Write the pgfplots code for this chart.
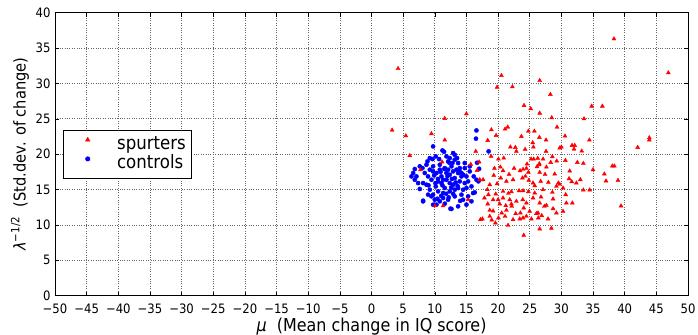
\documentclass[border=0pt]{standalone}
\usepackage{fontspec}
\setmainfont{DejaVu Sans}[FakeStretch=0.9]
\usepackage{pgfplots}
\pgfplotsset{compat=1.18}
\begin{document}
\begin{tikzpicture}
\begin{axis}[
  scale only axis, width=633bp, height=283bp,
  xmin=-50, xmax=50, ymin=0, ymax=40,
  xtick={-50,-45,...,50},
  xticklabels={−50,−45,−40,−35,−30,−25,−20,−15,−10,−5,0,5,10,15,20,25,30,35,40,45,50},
  ytick={0,5,...,40},
  /pgf/number format/assume math mode=true,
  ticklabel style={font=\fontsize{13}{15}\selectfont},
  xticklabel style={yshift=-4.5bp},
  yticklabel style={xshift=-1bp},
  grid=major, grid style={dotted, black!60, line width=0.7bp},
  major tick length=4bp, tick style={black, line width=0.6bp},
  axis line style={line width=0.9bp},
  xlabel={\textit{μ}\ \ (Mean change in IQ score)},
  ylabel={\textit{λ}\textsuperscript{−1/2}\ \ (Std.dev. of change)},
  xlabel style={font=\fontsize{17.8}{20}\selectfont, at={(axis description cs:0.5,-0.1254)}, anchor=base},
  ylabel style={font=\fontsize{16.3}{18}\selectfont, at={(axis description cs:-0.0553,0.5)}, anchor=center},
  legend style={at={(axis description cs:0.0122,0.5866)}, anchor=north west,
    font=\fontsize{18.5}{19}\selectfont, draw=black, line width=0.8bp,
    inner xsep=6bp, inner ysep=5.3bp, row sep=0bp, column sep=11bp,
    nodes={inner sep=0bp, text height=14bp, text depth=5bp}},
  legend image code/.code={\path[draw=none,fill=none] (0bp,0bp) -- (37bp,0bp); \path[draw=none,fill=none,#1,only marks] plot coordinates {(18.6bp,5bp)};},
  legend cell align=left,
  reverse legend,
]
\addplot[only marks, mark=*, mark size=2.1bp, color=blue, mark options={draw=blue, fill=blue}] coordinates {
(16.58,23.36) (9.73,21.10) (11.21,20.53) (10.15,19.69) (9.63,19.31) (9.21,19.45) (8.84,18.98) (10.68,19.31)
(11.84,19.69) (12.36,19.45) (12.89,20.16) (13.15,19.22) (12.10,18.98) (13.68,18.75) (14.73,18.75) (14.73,18.04)
(15.52,17.57) (16.15,16.86) (16.58,16.39) (14.21,17.34) (13.42,17.81) (12.63,18.28) (11.58,18.04) (10.79,18.51)
(9.73,18.28) (8.68,18.51) (8.05,18.04) (7.63,18.28) (6.84,17.90) (6.58,17.34) (7.10,16.86) (7.36,15.92)
(8.15,15.92) (8.68,15.69) (9.21,14.98) (9.73,14.28) (10.52,14.75) (10.15,15.45) (9.47,16.39) (8.94,16.86)
(8.42,17.34) (10.26,17.34) (11.05,16.86) (11.84,16.39) (12.36,17.10) (13.15,16.63) (13.94,16.16) (14.73,15.92)
(15.00,15.22) (15.79,15.45) (16.05,14.51) (15.26,14.04) (14.21,14.28) (13.15,14.04) (12.36,14.75) (11.58,15.22)
(11.05,15.92) (12.89,15.69) (13.68,15.22) (14.47,14.98) (12.10,13.57) (11.31,13.81) (10.79,13.34) (9.99,13.57)
(9.47,14.04) (8.94,14.28) (8.15,13.43) (10.26,12.87) (11.58,13.01) (12.63,12.26) (13.68,12.63) (14.47,13.57)
(15.00,12.87) (15.79,13.34) (7.63,15.08) (6.84,16.39) (6.31,16.86) (10.79,17.81) (9.73,17.57) (9.21,17.81)
(11.84,17.34) (12.36,15.92) (13.15,14.98) (11.31,14.51) (10.52,16.16) (11.31,16.39) (12.10,17.81) (12.89,17.57)
(13.68,17.34) (14.21,16.86) (15.00,16.86) (15.26,16.16) (15.52,18.28) (13.94,18.04) (13.52,19.45) (12.79,18.75)
(16.5,22.2) (18.5,20.4) (8.15,13.33) (9.73,12.86) (12.47,12.3) (16.31,14.6) (16.89,16.16) (17.0,17.94)
(16.68,18.79) (11.47,20.34) (13.15,19.92) (10.5,16.5) (11.2,15.6) (12.0,16.9) (12.6,15.3) (13.3,16.0)
(11.8,14.4) (10.9,17.5) (12.3,18.8) (13.9,17.6) (10.1,15.9) (11.5,17.9) (12.9,14.4) (14.5,17.1)
(9.9,17.0) (11.0,14.1) (13.6,15.5) (12.2,13.9) (10.4,13.7) (9.0,15.6) (14.0,13.4) (12.7,16.5)
};
\addlegendentry{controls}
\addplot[only marks, mark=triangle*, mark size=2.3bp, color=red, mark options={draw=red, fill=red}] coordinates {
(20.52,31.12) (46.89,31.50) (19.84,29.47) (22.26,29.52) (26.57,30.41) (28.26,28.44) (24.10,26.89) (25.15,26.42)
(26.57,25.80) (28.47,25.15) (34.78,26.79) (36.47,26.79) (33.57,25.00) (29.31,23.83) (18.94,23.45) (21.10,23.55)
(21.52,23.83) (18.36,21.95) (19.68,22.65) (23.68,22.51) (24.78,23.26) (25.73,23.26) (26.52,22.37) (27.57,22.00)
(25.47,21.62) (30.57,22.56) (34.42,22.00) (43.89,22.32) (43.89,22.00) (42.05,20.96) (21.94,21.01) (22.73,20.96)
(24.26,20.68) (22.89,20.40) (25.57,21.01) (27.57,20.40) (30.00,21.01) (29.73,20.87) (31.68,21.24) (32.10,21.24)
(31.99,20.72) (33.21,20.44) (18.89,19.69) (20.05,19.31) (20.89,19.45) (25.21,19.31) (25.63,19.31) (26.26,19.41)
(27.10,19.31) (26.52,18.65) (28.57,19.64) (28.31,18.84) (29.26,19.03) (30.63,19.12) (32.52,18.84) (33.47,18.70)
(34.99,17.81) (38.05,18.33) (38.36,18.33) (36.78,17.20) (37.05,16.21) (38.94,16.30) (39.42,12.68) (19.42,18.00)
(20.36,18.18) (20.78,17.67) (21.73,17.15) (22.52,18.00) (23.47,17.67) (23.94,17.86) (24.47,18.00) (24.57,18.61)
(24.78,17.43) (26.15,18.23) (26.47,18.51) (26.57,17.43) (27.42,17.15) (27.63,18.18) (28.94,17.20) (29.52,15.93)
(29.73,15.74) (31.31,17.62) (31.21,16.54) (31.63,16.12) (32.36,15.93) (32.99,16.40) (33.47,14.94) (34.47,14.94)
(17.63,16.40) (18.68,15.69) (19.84,15.83) (20.42,16.63) (19.31,17.01) (21.31,16.16) (22.36,16.40) (23.84,16.63)
(24.31,16.87) (24.84,16.30) (25.52,15.93) (25.78,15.55) (26.73,16.16) (27.94,16.02) (29.21,15.46) (30.26,15.22)
(30.68,14.28) (31.73,13.10) (30.78,13.10) (28.68,13.67) (28.57,14.61) (27.10,14.99) (26.78,13.95) (25.78,14.51)
(24.78,14.70) (23.94,14.84) (23.31,14.84) (22.10,14.70) (21.63,14.47) (20.78,14.75) (19.63,14.37) (18.47,14.28)
(18.31,14.99) (17.84,13.81) (18.36,12.96) (19.21,13.57) (20.00,13.57) (20.26,12.96) (20.78,13.81) (21.21,12.73)
(21.84,13.57) (22.10,12.96) (22.89,13.34) (23.89,13.57) (24.47,13.10) (25.52,13.81) (26.57,13.10) (27.31,12.63)
(27.63,12.77) (28.68,12.30) (29.21,11.69) (30.26,11.93) (27.89,10.85) (26.89,11.32) (26.05,11.60) (24.99,11.93)
(24.05,12.40) (23.52,11.69) (22.78,11.60) (22.15,12.63) (21.31,12.07) (20.57,11.69) (19.21,11.97) (18.68,12.07)
(17.52,10.85) (18.68,11.22) (19.57,10.28) (18.99,10.70) (20.05,10.99) (21.10,11.22) (21.57,9.95) (22.36,10.75)
(23.42,10.85) (23.94,10.99) (24.47,11.22) (25.26,10.85) (26.31,11.69) (26.36,10.99) (26.57,9.44) (28.42,9.53)
(24.05,8.54) (17.21,10.75)
(3.26,23.4) (4.2,32.1) (5.42,22.6) (9.47,22.9) (11.57,22.0) (11.57,25.05) (14.99,25.7) (6.05,19.8)
(11.15,18.9) (16.47,20.4) (15.68,18.56) (7.73,17.8) (16.68,17.7) (15.26,13.6) (10.05,12.7) (11.31,12.7)
(17.0,18.9) (17.1,16.4) (38.3,36.3)
};
\addlegendentry{spurters}
\end{axis}
\pgfresetboundingbox
\path[use as bounding box] ([xshift=-55bp,yshift=-39bp]current axis.south west) rectangle ([xshift=10bp,yshift=12.7bp]current axis.north east);
\end{tikzpicture}
\end{document}
